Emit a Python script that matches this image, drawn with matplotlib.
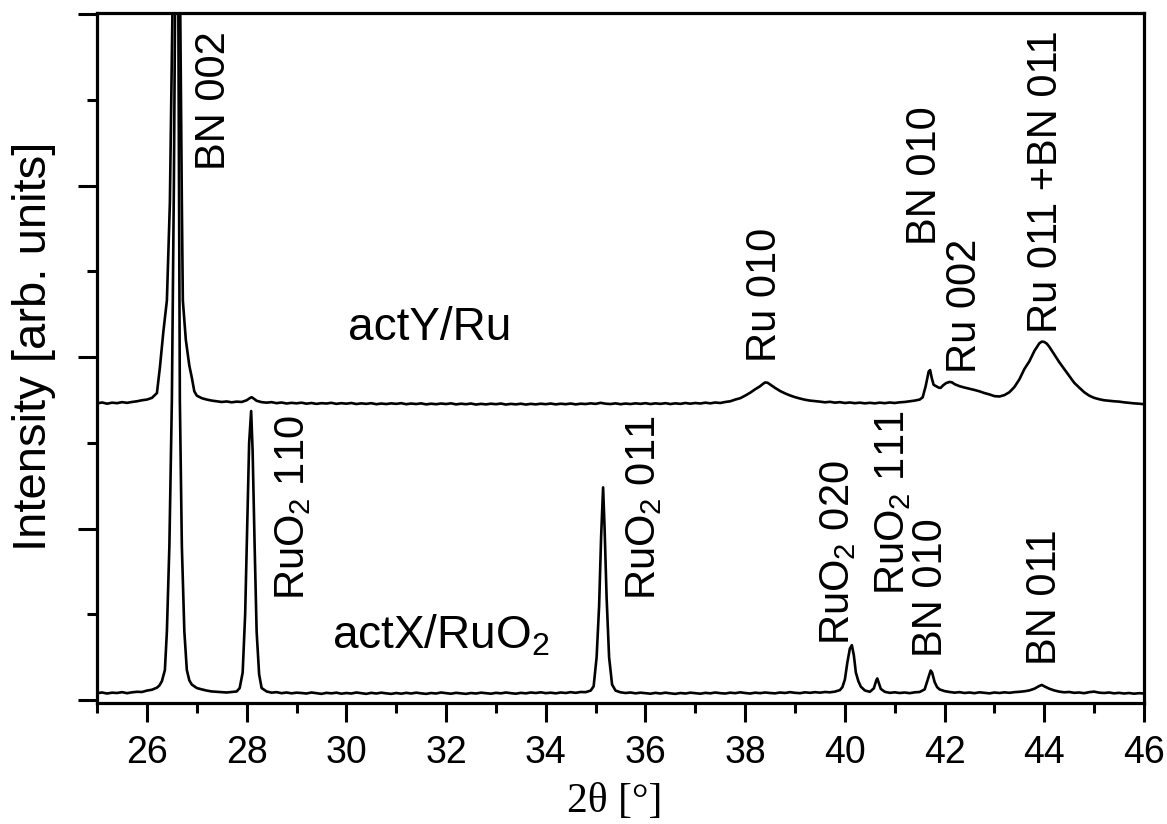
import matplotlib
matplotlib.use("Agg")
import matplotlib.pyplot as plt
import numpy as np
from matplotlib.ticker import MultipleLocator, NullFormatter

plt.rcParams['font.family'] = ['Liberation Sans', 'DejaVu Sans']
plt.rcParams['mathtext.fontset'] = 'custom'
plt.rcParams['mathtext.rm'] = 'Liberation Sans'
plt.rcParams['mathtext.it'] = 'Liberation Sans'
plt.rcParams['mathtext.default'] = 'regular'

#--------------------------------------------#
# Scans: (2theta, intensity)
#--------------------------------------------#
scan_actx_ruo2 = [
    (25.0, 0.040), (25.1, 0.044), (25.2, 0.038), (25.3, 0.043), (25.4, 0.041), (25.5, 0.046),
    (25.6, 0.040), (25.7, 0.045), (25.8, 0.048), (25.9, 0.047),
    (26.0, 0.055), (26.1, 0.060), (26.2, 0.072), (26.25, 0.085), (26.3, 0.110), (26.36, 0.175),
    (26.4, 0.40), (26.45, 0.90), (26.5, 1.75), (26.54, 3.0), (26.57, 4.3), (26.6, 4.6),
    (26.63, 4.0), (26.66, 1.75), (26.7, 0.90), (26.75, 0.40), (26.8, 0.175), (26.85, 0.115),
    (26.9, 0.090), (27.0, 0.070), (27.1, 0.062), (27.2, 0.055), (27.3, 0.050), (27.4, 0.048),
    (27.5, 0.046), (27.6, 0.044), (27.7, 0.047), (27.8, 0.050),
    (27.86, 0.070), (27.92, 0.160), (27.97, 0.50), (28.01, 1.00), (28.05, 1.50), (28.09, 1.685),
    (28.12, 1.45), (28.16, 0.90), (28.2, 0.40), (28.25, 0.150), (28.3, 0.070),
    (28.4, 0.050), (28.5, 0.043), (28.6, 0.046), (28.7, 0.040), (28.8, 0.044), (28.9, 0.039),
    (29.0, 0.043), (29.1, 0.041), (29.2, 0.038), (29.3, 0.044), (29.4, 0.040), (29.5, 0.036),
    (29.6, 0.042), (29.7, 0.039), (29.8, 0.043), (29.9, 0.037), (30.0, 0.041), (30.1, 0.038),
    (30.2, 0.044), (30.3, 0.040), (30.4, 0.036), (30.5, 0.042), (30.6, 0.038), (30.7, 0.043),
    (30.8, 0.039), (30.9, 0.036), (31.0, 0.041), (31.1, 0.037), (31.2, 0.042), (31.3, 0.038),
    (31.4, 0.043), (31.5, 0.039), (31.6, 0.036), (31.7, 0.041), (31.8, 0.038), (31.9, 0.044),
    (32.0, 0.040), (32.1, 0.037), (32.2, 0.042), (32.3, 0.039), (32.4, 0.036), (32.5, 0.041),
    (32.6, 0.038), (32.7, 0.043), (32.8, 0.040), (32.9, 0.037), (33.0, 0.042), (33.1, 0.039),
    (33.2, 0.044), (33.3, 0.040), (33.4, 0.037), (33.5, 0.042), (33.6, 0.039), (33.7, 0.044),
    (33.8, 0.041), (33.9, 0.045), (34.0, 0.040), (34.1, 0.043), (34.2, 0.039), (34.3, 0.044),
    (34.4, 0.041), (34.5, 0.046), (34.6, 0.042), (34.7, 0.047), (34.8, 0.046), (34.9, 0.055),
    (34.96, 0.080), (35.02, 0.250), (35.07, 0.550), (35.11, 0.950), (35.15, 1.240), (35.18, 1.000),
    (35.22, 0.600), (35.27, 0.250), (35.33, 0.090), (35.4, 0.055),
    (35.5, 0.045), (35.6, 0.041), (35.7, 0.044), (35.8, 0.039), (35.9, 0.043), (36.0, 0.040),
    (36.1, 0.037), (36.2, 0.042), (36.3, 0.038), (36.4, 0.043), (36.5, 0.039), (36.6, 0.036),
    (36.7, 0.041), (36.8, 0.038), (36.9, 0.043), (37.0, 0.040), (37.1, 0.037), (37.2, 0.042),
    (37.3, 0.039), (37.4, 0.044), (37.5, 0.040), (37.6, 0.038), (37.7, 0.043), (37.8, 0.040),
    (37.9, 0.045), (38.0, 0.041), (38.1, 0.038), (38.2, 0.043), (38.3, 0.040), (38.4, 0.044),
    (38.5, 0.041), (38.6, 0.039), (38.7, 0.044), (38.8, 0.041), (38.9, 0.046), (39.0, 0.042),
    (39.1, 0.040), (39.2, 0.045), (39.3, 0.042), (39.4, 0.046), (39.5, 0.043), (39.6, 0.047),
    (39.7, 0.045), (39.8, 0.049), (39.9, 0.058),
    (39.95, 0.075), (40.0, 0.120), (40.05, 0.220), (40.1, 0.300), (40.14, 0.320), (40.18, 0.260),
    (40.22, 0.160), (40.27, 0.110), (40.32, 0.078), (40.4, 0.056), (40.5, 0.048),
    (40.58, 0.068), (40.63, 0.115), (40.65, 0.126), (40.68, 0.100), (40.72, 0.065), (40.8, 0.048),
    (40.9, 0.042), (41.0, 0.045), (41.1, 0.041), (41.2, 0.044), (41.3, 0.040), (41.4, 0.045),
    (41.5, 0.047), (41.6, 0.062), (41.67, 0.125), (41.72, 0.172), (41.75, 0.160), (41.8, 0.105),
    (41.85, 0.075), (41.9, 0.062), (42.0, 0.052), (42.1, 0.047), (42.2, 0.043), (42.3, 0.046),
    (42.4, 0.041), (42.5, 0.044), (42.6, 0.040), (42.7, 0.045), (42.8, 0.042), (42.9, 0.039),
    (43.0, 0.044), (43.1, 0.041), (43.2, 0.045), (43.3, 0.042), (43.4, 0.046), (43.5, 0.048),
    (43.6, 0.051), (43.7, 0.056), (43.8, 0.066), (43.9, 0.082), (43.95, 0.088), (44.0, 0.080),
    (44.1, 0.066), (44.2, 0.056), (44.3, 0.049), (44.4, 0.045), (44.5, 0.047), (44.6, 0.042),
    (44.7, 0.044), (44.8, 0.040), (44.9, 0.046), (45.0, 0.049), (45.1, 0.043), (45.2, 0.041),
    (45.3, 0.044), (45.4, 0.039), (45.5, 0.042), (45.6, 0.038), (45.7, 0.041), (45.8, 0.037),
    (45.9, 0.040), (46.0, 0.038),
]

scan_acty_ru = [
    (25.0, 1.730), (25.1, 1.735), (25.2, 1.728), (25.3, 1.734), (25.4, 1.731), (25.5, 1.737),
    (25.6, 1.733), (25.7, 1.738), (25.8, 1.742), (25.9, 1.748),
    (26.0, 1.752), (26.1, 1.762), (26.2, 1.790), (26.26, 1.940), (26.33, 2.150), (26.4, 2.330),
    (26.46, 2.900), (26.52, 4.200), (26.6, 4.600), (26.66, 4.300), (26.7, 2.900), (26.72, 2.330),
    (26.78, 2.100), (26.85, 1.950), (26.9, 1.880), (26.95, 1.800),
    (27.0, 1.775), (27.1, 1.760), (27.2, 1.752), (27.3, 1.746), (27.4, 1.742), (27.5, 1.738),
    (27.6, 1.741), (27.7, 1.736), (27.8, 1.740), (27.9, 1.738),
    (28.0, 1.748), (28.05, 1.758), (28.1, 1.766), (28.15, 1.756), (28.2, 1.745), (28.3, 1.737),
    (28.4, 1.734), (28.5, 1.737), (28.6, 1.731), (28.7, 1.735), (28.8, 1.729), (28.9, 1.733),
    (29.0, 1.730), (29.1, 1.734), (29.2, 1.728), (29.3, 1.732), (29.4, 1.727), (29.5, 1.731),
    (29.6, 1.729), (29.7, 1.733), (29.8, 1.727), (29.9, 1.731), (30.0, 1.728), (30.1, 1.732),
    (30.2, 1.726), (30.3, 1.730), (30.4, 1.727), (30.5, 1.731), (30.6, 1.725), (30.7, 1.729),
    (30.8, 1.726), (30.9, 1.730), (31.0, 1.727), (31.1, 1.731), (31.2, 1.725), (31.3, 1.729),
    (31.4, 1.726), (31.5, 1.730), (31.6, 1.724), (31.7, 1.728), (31.8, 1.725), (31.9, 1.729),
    (32.0, 1.726), (32.1, 1.730), (32.2, 1.724), (32.3, 1.728), (32.4, 1.725), (32.5, 1.729),
    (32.6, 1.723), (32.7, 1.727), (32.8, 1.724), (32.9, 1.728), (33.0, 1.725), (33.1, 1.729),
    (33.2, 1.723), (33.3, 1.727), (33.4, 1.724), (33.5, 1.728), (33.6, 1.723), (33.7, 1.727),
    (33.8, 1.724), (33.9, 1.728), (34.0, 1.725), (34.1, 1.729), (34.2, 1.724), (34.3, 1.728),
    (34.4, 1.725), (34.5, 1.729), (34.6, 1.724), (34.7, 1.728), (34.8, 1.726), (34.9, 1.730),
    (35.0, 1.727), (35.1, 1.733), (35.2, 1.728), (35.3, 1.726), (35.4, 1.730), (35.5, 1.725),
    (35.6, 1.729), (35.7, 1.726), (35.8, 1.730), (35.9, 1.727), (36.0, 1.731), (36.1, 1.726),
    (36.2, 1.730), (36.3, 1.727), (36.4, 1.731), (36.5, 1.726), (36.6, 1.730), (36.7, 1.727),
    (36.8, 1.732), (36.9, 1.728), (37.0, 1.732), (37.1, 1.729), (37.2, 1.734), (37.3, 1.730),
    (37.4, 1.735), (37.5, 1.732), (37.6, 1.738), (37.7, 1.742), (37.8, 1.752), (37.9, 1.760),
    (38.0, 1.775), (38.1, 1.792), (38.2, 1.812), (38.3, 1.830), (38.35, 1.842), (38.4, 1.852),
    (38.45, 1.850), (38.5, 1.840), (38.6, 1.820), (38.7, 1.802), (38.8, 1.788), (38.9, 1.776),
    (39.0, 1.766), (39.1, 1.758), (39.2, 1.751), (39.3, 1.746), (39.4, 1.743), (39.5, 1.740),
    (39.6, 1.736), (39.7, 1.739), (39.8, 1.734), (39.9, 1.737), (40.0, 1.732), (40.1, 1.735),
    (40.2, 1.731), (40.3, 1.734), (40.4, 1.730), (40.5, 1.733), (40.6, 1.730), (40.7, 1.734),
    (40.8, 1.731), (40.9, 1.735), (41.0, 1.732), (41.1, 1.736), (41.2, 1.738), (41.3, 1.742),
    (41.4, 1.746), (41.5, 1.752), (41.56, 1.765), (41.62, 1.830), (41.68, 1.915), (41.71, 1.924),
    (41.74, 1.880), (41.78, 1.838), (41.83, 1.830), (41.88, 1.822), (41.92, 1.820), (41.97, 1.835),
    (42.03, 1.848), (42.1, 1.855), (42.15, 1.852), (42.2, 1.842), (42.3, 1.830), (42.4, 1.822),
    (42.5, 1.815), (42.6, 1.808), (42.7, 1.800), (42.8, 1.790), (42.9, 1.782), (43.0, 1.772),
    (43.1, 1.770), (43.2, 1.778), (43.3, 1.795), (43.4, 1.825), (43.5, 1.870), (43.6, 1.930),
    (43.7, 1.975), (43.8, 2.035), (43.9, 2.080), (43.95, 2.090), (44.0, 2.088), (44.05, 2.078),
    (44.1, 2.060), (44.2, 2.015), (44.3, 1.970), (44.4, 1.930), (44.5, 1.890), (44.6, 1.850),
    (44.7, 1.822), (44.8, 1.795), (44.9, 1.775), (45.0, 1.762), (45.1, 1.754), (45.2, 1.748),
    (45.3, 1.745), (45.4, 1.742), (45.5, 1.740), (45.6, 1.736), (45.7, 1.733), (45.8, 1.730),
    (45.9, 1.728), (46.0, 1.725),
]

# reflection labels: (text, 2theta, intensity at bottom of label)
peak_labels = [
    ("BN 002", 27.34, 3.09),
    ("RuO$_2$ 110", 28.93, 0.583),
    ("RuO$_2$ 011", 35.98, 0.583),
    ("RuO$_2$ 020", 39.87, 0.321),
    ("RuO$_2$ 111", 40.96, 0.612),
    ("BN 010", 41.72, 0.251),
    ("BN 011", 44.01, 0.204),
    ("Ru 010", 38.39, 1.971),
    ("BN 010", 41.60, 2.653),
    ("Ru 002", 42.40, 1.907),
    ("Ru 011 +BN 011", 44.04, 2.14),
]

xticks = [26, 28, 30, 32, 34, 36, 38, 40, 42, 44, 46]

#--------------------------------------------#
# Plot
#--------------------------------------------#
fig = plt.figure(figsize=(11.67, 8.24), dpi=100)
ax = fig.add_axes([0.0832, 0.1468, 0.8971, 0.8374])

lo = np.array(scan_actx_ruo2)
hi = np.array(scan_acty_ru)
ax.plot(lo[:, 0], lo[:, 1], color='black', lw=1.9)
ax.plot(hi[:, 0], hi[:, 1], color='black', lw=1.9)

ax.set_xlim(25, 46)
ax.set_ylim(-0.0175, 4.006)

ax.set_xticks(xticks)
ax.xaxis.set_minor_locator(MultipleLocator(1))
ax.yaxis.set_major_locator(MultipleLocator(1))
ax.yaxis.set_minor_locator(MultipleLocator(0.5))
ax.yaxis.set_major_formatter(NullFormatter())

ax.tick_params(which='both', direction='out', width=2.2, top=False, right=False)
ax.tick_params(which='major', length=14, pad=9, labelsize=27)
ax.tick_params(which='minor', length=7)
for sp in ax.spines.values():
    sp.set_linewidth(2.3)

for txt, x, y in peak_labels:
    ax.text(x, y, txt, rotation=90, ha='center', va='bottom', fontsize=30)

ax.text(31.68, 2.099, "actY/Ru", ha='center', va='baseline', fontsize=33)
ax.text(29.72, 0.303, "actX/RuO$_2$", ha='left', va='baseline', fontsize=33)

fig.text(34 / 1167, 1 - 346 / 824, "Intensity [arb. units]", rotation=90,
         ha='center', va='center', fontsize=34)
fig.text(615 / 1167, 1 - 802 / 824, "2\u03b8 [\u00b0]", ha='center', va='center',
         fontsize=30, family=['Liberation Serif', 'DejaVu Serif'])

plt.savefig("out.png", dpi=100)
